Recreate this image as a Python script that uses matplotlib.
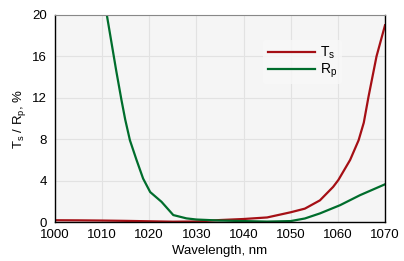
import matplotlib
matplotlib.use("Agg")
import matplotlib.pyplot as plt

plt.rcParams["font.family"] = ["Liberation Sans", "DejaVu Sans"]
plt.rcParams["mathtext.fontset"] = "custom"
plt.rcParams["mathtext.rm"] = "Liberation Sans"

# Ts (red) transmission
ts_wl = [1000, 1005, 1010, 1015, 1020, 1025, 1030, 1035, 1040, 1045, 1050, 1053,
         1056.2, 1059, 1060.1, 1062.6, 1064.4, 1065.5, 1066.5, 1068.2, 1070]
ts_val = [0.18, 0.17, 0.15, 0.12, 0.08, 0.04, 0.06, 0.2, 0.3, 0.45, 0.95, 1.3,
          2.1, 3.4, 4.06, 6.0, 7.9, 9.6, 12.1, 16.0, 19.0]

# Rp (green) reflection
rp_wl = [1011, 1012, 1013, 1014.1, 1014.9, 1015.9, 1017.3, 1018.7, 1020.2, 1022.6,
         1025.1, 1027.9, 1030, 1035, 1040, 1045, 1050, 1053, 1056.2, 1060.5,
         1064.7, 1070]
rp_val = [20.0, 17.3, 14.6, 11.8, 9.9, 7.9, 6.0, 4.2, 2.9, 1.96,
          0.68, 0.36, 0.25, 0.15, 0.1, 0.05, 0.1, 0.35, 0.84, 1.64,
          2.6, 3.65]

xticks = [1000, 1010, 1020, 1030, 1040, 1050, 1060, 1070]
yticks = [0, 4, 8, 12, 16, 20]

fig = plt.figure(figsize=(4.04, 2.61), dpi=100)
ax = fig.add_axes([0.136, 0.149, 0.817, 0.794])
ax.set_facecolor("#f5f5f5")

ax.plot(ts_wl, ts_val, color="#a50f15", lw=1.6, label="T$_\\mathregular{s}$")
ax.plot(rp_wl, rp_val, color="#006d2c", lw=1.6, label="R$_\\mathregular{p}$")

ax.set_xlim(1000, 1070)
ax.set_ylim(0, 20)
ax.set_xticks(xticks)
ax.set_yticks(yticks)
ax.grid(True, color="#e2e2e2", lw=0.8)
ax.set_axisbelow(True)
ax.tick_params(axis="x", labelsize=9.5, length=0, pad=5)
ax.tick_params(axis="y", labelsize=9.5, length=0, pad=6)
ax.set_xlabel("Wavelength, nm", fontsize=9.5, labelpad=3)
ax.set_ylabel("T$_\\mathregular{s}$ / R$_\\mathregular{p}$, %", fontsize=9.5, labelpad=3)

for s in ["left", "bottom", "right"]:
    ax.spines[s].set_color("black")
    ax.spines[s].set_linewidth(1.0)
ax.spines["top"].set_color("#888888")

leg = ax.legend(loc="upper right", bbox_to_anchor=(0.89, 0.91), fontsize=10,
                frameon=True, handlelength=3.4, handletextpad=0.4,
                borderpad=0.3, labelspacing=0.05)
leg.get_frame().set_facecolor("#f8f8f8")
leg.get_frame().set_edgecolor("none")

fig.savefig("out.png", dpi=100)
